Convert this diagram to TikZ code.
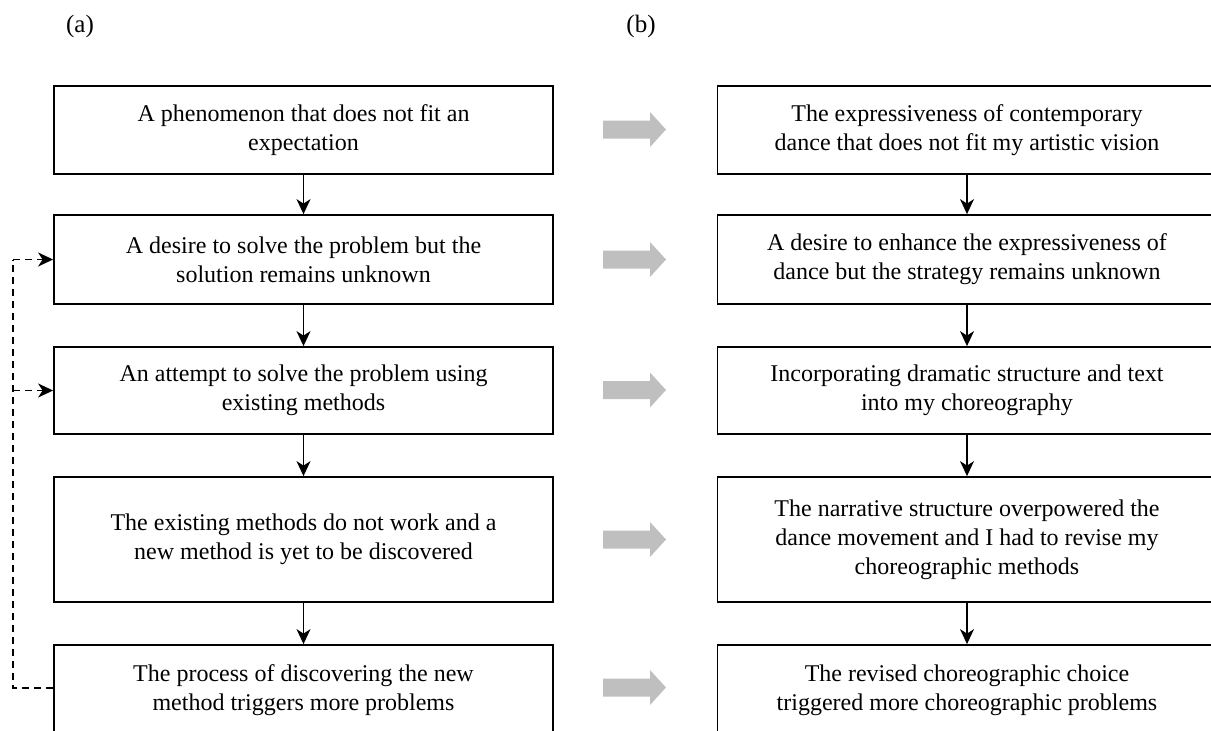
\documentclass[tikz,border=0pt]{standalone}
\usepackage{fontspec}
\setmainfont{Liberation Serif}
\usetikzlibrary{arrows.meta}
\begin{document}
\begin{tikzpicture}[x=1pt,y=-1pt,
  box/.style={draw=black,line width=1.8pt,fill=white,minimum width=499pt,align=center,inner sep=0pt,
    font=\fontsize{24}{29}\selectfont},
  tip/.style={-{Stealth[length=15pt,width=14pt,inset=4.5pt]}},
  flow/.style={line width=1.5pt,tip},
  fb/.style={line width=1.7pt,dash pattern=on 7pt off 5pt},
  lab/.style={font=\fontsize{25}{30}\selectfont,inner sep=0pt}]
\useasboundingbox (0,0) rectangle (1211,731);
\clip (0,0) rectangle (1211,731);
\node[lab] (la) at (80,26) {(a)};
\node[lab] (lb) at (641,26) {(b)};
% left column
\node[box,minimum height=88pt] (a1) at (303.5,130) {A phenomenon that does not fit an\\expectation};
\node[box,minimum height=89pt] (a2) at (303.5,259.5) {A desire to solve the problem but the\\solution remains unknown};
\node[box,minimum height=87pt] (a3) at (303.5,390.5) {An attempt to solve the problem using\\existing methods};
\node[box,minimum height=125pt] (a4) at (303.5,539.5) {The existing methods do not work and a\\new method is yet to be discovered};
\node[box,minimum height=90pt] (a5) at (303.5,690) {The process of discovering the new\\method triggers more problems};
% right column
\node[box,minimum height=88pt] (b1) at (967,130) {The expressiveness of contemporary\\dance that does not fit my artistic vision};
\node[box,minimum height=89pt] (b2) at (967,259.5) {A desire to enhance the expressiveness of\\dance but the strategy remains unknown};
\node[box,minimum height=87pt] (b3) at (967,390.5) {Incorporating dramatic structure and text\\into my choreography};
\node[box,minimum height=125pt] (b4) at (967,539.5) {The narrative structure overpowered the\\dance movement and I had to revise my\\choreographic methods};
\node[box,minimum height=90pt] (b5) at (967,690) {The revised choreographic choice\\triggered more choreographic problems};
% vertical arrows
\foreach \c in {a,b}{
  \draw[flow] (\c1.south) -- (\c2.north);
  \draw[flow] (\c2.south) -- (\c3.north);
  \draw[flow] (\c3.south) -- (\c4.north);
  \draw[flow] (\c4.south) -- (\c5.north);
}
% feedback dashed
\coordinate (fl) at (13,0);
\draw[fb] (a5.west |- 0,688) -- (fl |- 0,688) -- (fl |- a2.west) coordinate (f2);
\draw[fb,tip] (f2) -- (a2.west);
\draw[fb,tip] (fl |- a3.west) -- (a3.west);
% gray arrows
\foreach \y in {129.5,259.5,390,539.5,687.5}{
  \fill[gray!50!white,shift={(603,\y)}] (0,-9) -- (47,-9) -- (47,-17.5) -- (63,0) -- (47,17.5) -- (47,9) -- (0,9) -- cycle;
}
\end{tikzpicture}
\end{document}
